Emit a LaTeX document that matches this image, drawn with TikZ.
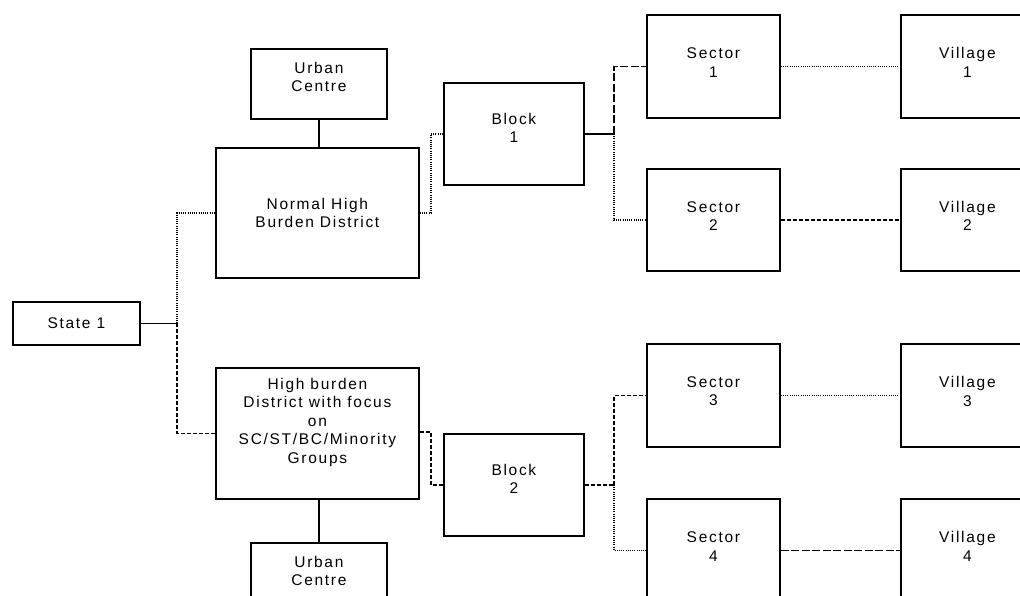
\documentclass[tikz,border=0pt]{standalone}
\usepackage{fontspec}
\newfontfamily\dfont[LetterSpace=11]{Liberation Sans}
\begin{document}
\begin{tikzpicture}[x=1pt,y=-1pt,
  box/.style={draw, line width=1.8pt, rectangle, inner sep=0pt, anchor=north west},
  txt/.style={font=\dfont\fontsize{15.5}{18.5}\selectfont, align=center},
  solidc/.style={line width=1.5pt},
  dotc/.style={line width=1.5pt, dash pattern=on 1pt off 1.2pt},
  dashc/.style={line width=1.5pt, dash pattern=on 4pt off 2pt},
  longdashc/.style={line width=1.5pt, dash pattern=on 8pt off 2.5pt}]
\useasboundingbox (0,0) rectangle (1020,595);
\clip (0,0) rectangle (1020,595);
% boxes
\node[box, minimum width=127pt, minimum height=43pt,
  label={[txt]center:State 1}] (st) at (12,301) {};
\node[box, minimum width=136pt, minimum height=70pt,
  label={[txt,yshift=7pt]center:Urban\\Centre}] (uc1) at (250,48) {};
\node[box, minimum width=203pt, minimum height=130pt,
  label={[txt]center:Normal High\\Burden District}] (nh) at (215,147) {};
\node[box, minimum width=203pt, minimum height=131pt,
  label={[txt,yshift=11pt]center:High burden\\District with focus\\on\\SC/ST/BC/Minority\\Groups}] (hb) at (215,367) {};
\node[box, minimum width=136pt, minimum height=70pt,
  label={[txt,yshift=7pt]center:Urban\\Centre}] (uc2) at (250,542) {};
\node[box, minimum width=140pt, minimum height=102pt,
  label={[txt,yshift=6pt]center:Block\\1}] (b1) at (443,82) {};
\node[box, minimum width=140pt, minimum height=102pt,
  label={[txt,yshift=6pt]center:Block\\2}] (b2) at (443,433) {};
\node[box, minimum width=133pt, minimum height=103pt,
  label={[txt,yshift=4pt]center:Sector\\1}] (s1) at (646,14) {};
\node[box, minimum width=133pt, minimum height=102pt,
  label={[txt,yshift=4pt]center:Sector\\2}] (s2) at (646,168) {};
\node[box, minimum width=133pt, minimum height=103pt,
  label={[txt,yshift=4pt]center:Sector\\3}] (s3) at (646,343) {};
\node[box, minimum width=133pt, minimum height=103pt,
  label={[txt,yshift=4pt]center:Sector\\4}] (s4) at (646,498) {};
\node[box, minimum width=133pt, minimum height=103pt,
  label={[txt,yshift=4pt]center:Village\\1}] (v1) at (900,14) {};
\node[box, minimum width=133pt, minimum height=102pt,
  label={[txt,yshift=4pt]center:Village\\2}] (v2) at (900,168) {};
\node[box, minimum width=133pt, minimum height=103pt,
  label={[txt,yshift=4pt]center:Village\\3}] (v3) at (900,343) {};
\node[box, minimum width=133pt, minimum height=103pt,
  label={[txt,yshift=4pt]center:Village\\4}] (v4) at (900,498) {};
% bus x positions and junction points
\coordinate (xa) at (177,0);
\coordinate (xb) at (431,0);
\coordinate (xc) at (614,0);
\coordinate (j0) at (st.east -| xa);
\coordinate (ja) at (nh.east -| xb);
\coordinate (jb) at (431,432);
\coordinate (j1) at (b1.east -| xc);
\coordinate (j2) at (b2.east -| xc);
% connectors
\draw[solidc] (st.east) -- (j0);
\draw[dotc] (j0) |- (nh.west);
\draw[dashc] (j0) |- (hb.west);
\draw[solidc] (uc1.south) -- (uc1.south |- nh.north);
\draw[solidc] (hb.south -| uc2.north) -- (uc2.north);
\draw[dotc] (nh.east) -- (ja) |- (b1.west);
\draw[dashc] (hb.east |- jb) -- (jb) |- (b2.west);
\draw[solidc] (b1.east) -- (j1);
\draw[longdashc] (j1) |- (s1.west);
\draw[dotc] (j1) |- (s2.west);
\draw[dashc] (b2.east) -- (j2);
\draw[dashc] (j2) |- (s3.west);
\draw[dotc] (j2) |- (s4.west);
\draw[dotc] (s1.east) -- (v1.west);
\draw[dashc] (s2.east) -- (v2.west);
\draw[dotc] (s3.east) -- (v3.west);
\draw[longdashc] (s4.east) -- (v4.west);
\end{tikzpicture}
\end{document}
